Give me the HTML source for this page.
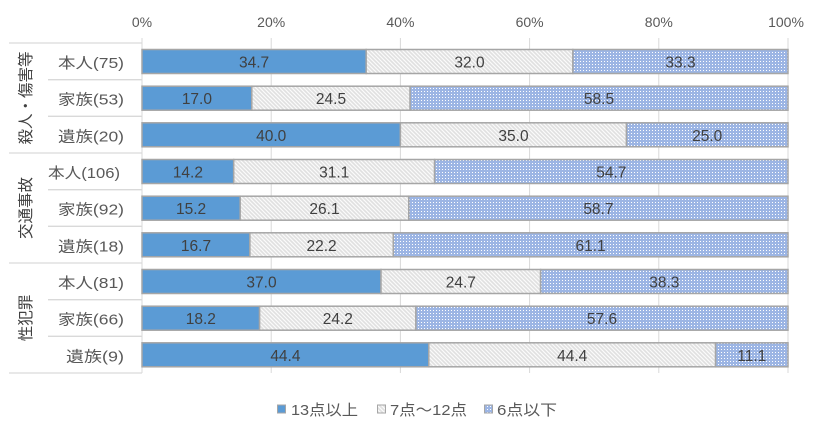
<!DOCTYPE html>
<html><head><meta charset="utf-8">
<style>
html,body{margin:0;padding:0;background:#fff;}
svg{display:block;}
text{font-family:"Liberation Sans","Noto Sans CJK JP",sans-serif;}
</style></head>
<body>
<svg width="828" height="437" viewBox="0 0 828 437" xmlns="http://www.w3.org/2000/svg">
<defs>
<pattern id="hatch" width="4" height="4" patternUnits="userSpaceOnUse">
<rect width="4" height="4" fill="#e0e0e0"/>
<path d="M-1,-1 L5,5 M-1,3 L1,5 M3,-1 L5,1" stroke="#fafafa" stroke-width="1.2"/>
</pattern>
<pattern id="dots" width="3" height="3" patternUnits="userSpaceOnUse">
<rect width="3" height="3" fill="#9cb5e4" shape-rendering="crispEdges"/>
<rect x="1" y="1" width="1" height="1" fill="#ffffff" shape-rendering="crispEdges"/>
</pattern>
</defs>

<!-- gridlines -->
<g stroke="#d9d9d9" stroke-width="1">
<line x1="142" y1="38" x2="142" y2="373"/>
<line x1="271.2" y1="38" x2="271.2" y2="373"/>
<line x1="400.4" y1="38" x2="400.4" y2="373"/>
<line x1="529.6" y1="38" x2="529.6" y2="373"/>
<line x1="658.8" y1="38" x2="658.8" y2="373"/>
<line x1="788" y1="38" x2="788" y2="373"/>
</g>

<!-- category separators -->
<g stroke="#d9d9d9" stroke-width="1.3">
<line x1="9" y1="43" x2="142" y2="43"/>
<line x1="48" y1="79.7" x2="142" y2="79.7"/>
<line x1="48" y1="116.3" x2="142" y2="116.3"/>
<line x1="9" y1="153" x2="142" y2="153"/>
<line x1="48" y1="189.7" x2="142" y2="189.7"/>
<line x1="48" y1="226.3" x2="142" y2="226.3"/>
<line x1="9" y1="263" x2="142" y2="263"/>
<line x1="48" y1="299.7" x2="142" y2="299.7"/>
<line x1="48" y1="336.3" x2="142" y2="336.3"/>
<line x1="9" y1="373" x2="142" y2="373"/>
</g>

<!-- tick labels -->
<g fill="#595959" font-size="14" text-anchor="middle">
<text x="142" y="27">0%</text>
<text x="271.2" y="27">20%</text>
<text x="400.4" y="27">40%</text>
<text x="529.6" y="27">60%</text>
<text x="658.8" y="27">80%</text>
<text x="786" y="27">100%</text>
</g>

<!-- bars -->
<g stroke="#a6a6a6" stroke-width="1.5">
<rect x="142" y="49.5" width="224.2" height="24" fill="#5b9bd5"/>
<rect x="366.2" y="49.5" width="206.7" height="24" fill="url(#hatch)"/>
<rect x="572.9" y="49.5" width="215.1" height="24" fill="url(#dots)"/>

<rect x="142" y="86.2" width="109.8" height="24" fill="#5b9bd5"/>
<rect x="251.8" y="86.2" width="158.3" height="24" fill="url(#hatch)"/>
<rect x="410.1" y="86.2" width="377.9" height="24" fill="url(#dots)"/>

<rect x="142" y="122.8" width="258.4" height="24" fill="#5b9bd5"/>
<rect x="400.4" y="122.8" width="226.1" height="24" fill="url(#hatch)"/>
<rect x="626.5" y="122.8" width="161.5" height="24" fill="url(#dots)"/>

<rect x="142" y="159.5" width="91.7" height="24" fill="#5b9bd5"/>
<rect x="233.7" y="159.5" width="200.9" height="24" fill="url(#hatch)"/>
<rect x="434.6" y="159.5" width="353.4" height="24" fill="url(#dots)"/>

<rect x="142" y="196.2" width="98.2" height="24" fill="#5b9bd5"/>
<rect x="240.2" y="196.2" width="168.6" height="24" fill="url(#hatch)"/>
<rect x="408.8" y="196.2" width="379.2" height="24" fill="url(#dots)"/>

<rect x="142" y="232.8" width="107.9" height="24" fill="#5b9bd5"/>
<rect x="249.9" y="232.8" width="143.4" height="24" fill="url(#hatch)"/>
<rect x="393.3" y="232.8" width="394.7" height="24" fill="url(#dots)"/>

<rect x="142" y="269.5" width="239" height="24" fill="#5b9bd5"/>
<rect x="381" y="269.5" width="159.6" height="24" fill="url(#hatch)"/>
<rect x="540.6" y="269.5" width="247.4" height="24" fill="url(#dots)"/>

<rect x="142" y="306.2" width="117.6" height="24" fill="#5b9bd5"/>
<rect x="259.6" y="306.2" width="156.3" height="24" fill="url(#hatch)"/>
<rect x="415.9" y="306.2" width="372.1" height="24" fill="url(#dots)"/>

<rect x="142" y="342.8" width="286.8" height="24" fill="#5b9bd5"/>
<rect x="428.8" y="342.8" width="286.8" height="24" fill="url(#hatch)"/>
<rect x="715.6" y="342.8" width="72.4" height="24" fill="url(#dots)"/>
</g>

<!-- data labels -->
<g fill="#404040" font-size="15.5" text-anchor="middle">
<text x="254.1" y="67.5">34.7</text><text x="469.5" y="67.5">32.0</text><text x="680.5" y="67.5">33.3</text>
<text x="196.9" y="104.2">17.0</text><text x="331.0" y="104.2">24.5</text><text x="599.0" y="104.2">58.5</text>
<text x="271.2" y="140.8">40.0</text><text x="513.5" y="140.8">35.0</text><text x="707.2" y="140.8">25.0</text>
<text x="187.9" y="177.5">14.2</text><text x="334.2" y="177.5">31.1</text><text x="611.3" y="177.5">54.7</text>
<text x="191.1" y="214.2">15.2</text><text x="324.5" y="214.2">26.1</text><text x="598.4" y="214.2">58.7</text>
<text x="196.0" y="250.8">16.7</text><text x="321.6" y="250.8">22.2</text><text x="590.6" y="250.8">61.1</text>
<text x="261.5" y="287.5">37.0</text><text x="460.8" y="287.5">24.7</text><text x="664.3" y="287.5">38.3</text>
<text x="200.8" y="324.2">18.2</text><text x="337.8" y="324.2">24.2</text><text x="602.0" y="324.2">57.6</text>
<text x="285.4" y="360.8">44.4</text><text x="572.2" y="360.8">44.4</text><text x="751.8" y="360.8">11.1</text>
</g>

<!-- category labels -->
<g fill="#595959" font-size="15">
<text x="58" y="68" textLength="66" lengthAdjust="spacingAndGlyphs">本人(75)</text>
<text x="58" y="104.7" textLength="66" lengthAdjust="spacingAndGlyphs">家族(53)</text>
<text x="58" y="141.3" textLength="66" lengthAdjust="spacingAndGlyphs">遺族(20)</text>
<text x="48" y="178" textLength="72" lengthAdjust="spacingAndGlyphs">本人(106)</text>
<text x="58" y="214.7" textLength="66" lengthAdjust="spacingAndGlyphs">家族(92)</text>
<text x="58" y="251.3" textLength="66" lengthAdjust="spacingAndGlyphs">遺族(18)</text>
<text x="58" y="288" textLength="66" lengthAdjust="spacingAndGlyphs">本人(81)</text>
<text x="58" y="324.7" textLength="66" lengthAdjust="spacingAndGlyphs">家族(66)</text>
<text x="66" y="361.3" textLength="58" lengthAdjust="spacingAndGlyphs">遺族(9)</text>
</g>

<!-- group labels (rotated) -->
<g fill="#404040" font-size="15.5">
<text transform="translate(31,98) rotate(-90)" text-anchor="middle">殺人・傷害等</text>
<text transform="translate(31,208) rotate(-90)" text-anchor="middle">交通事故</text>
<text transform="translate(31,318) rotate(-90)" text-anchor="middle">性犯罪</text>
</g>

<!-- legend -->
<g stroke="#a6a6a6" stroke-width="1">
<rect x="277.5" y="405" width="8" height="8" fill="#5b9bd5"/>
<rect x="377.5" y="405" width="8" height="8" fill="url(#hatch)"/>
<rect x="484.5" y="405" width="8" height="8" fill="url(#dots)"/>
</g>
<g fill="#595959" font-size="15">
<text x="291" y="415" textLength="67" lengthAdjust="spacingAndGlyphs">13点以上</text>
<text x="390" y="415" textLength="77" lengthAdjust="spacingAndGlyphs">7点〜12点</text>
<text x="497" y="415" textLength="60" lengthAdjust="spacingAndGlyphs">6点以下</text>
</g>
</svg>
</body></html>
